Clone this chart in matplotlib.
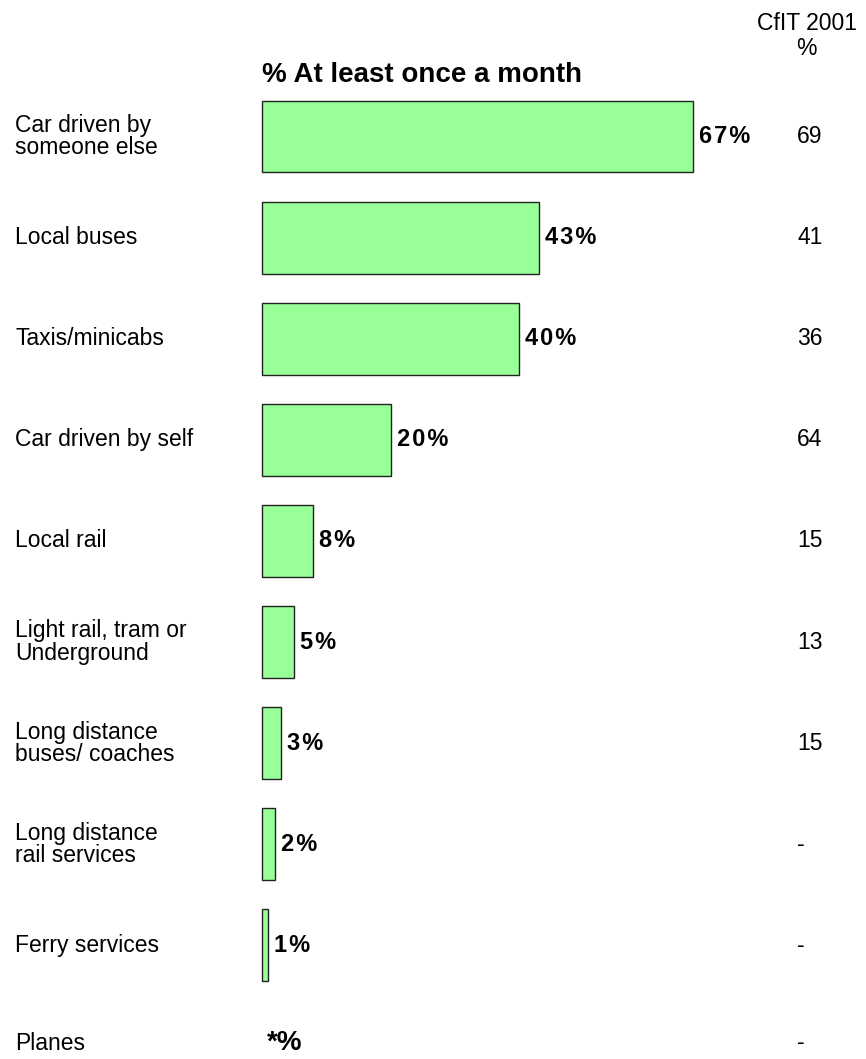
import numpy as np
import matplotlib.pyplot as plt

plt.rcParams['font.family'] = ['Liberation Sans', 'DejaVu Sans']

modes = ['Car driven by\nsomeone else', 'Local buses', 'Taxis/minicabs',
         'Car driven by self', 'Local rail', 'Light rail, tram or\nUnderground',
         'Long distance\nbuses/ coaches', 'Long distance\nrail services',
         'Ferry services', 'Planes']
monthly = [67, 43, 40, 20, 8, 5, 3, 2, 1, 0]
value_labels = ['67%', '43%', '40%', '20%', '8%', '5%', '3%', '2%', '1%', '*%']
cfit_2001 = ['69', '41', '36', '64', '15', '13', '15', '-', '-', '-']

# layout in pixels
W, H = 866, 1059
PX = 6.433          # pixels per percentage point
X0 = 262            # pixel of 0%
Y0 = 136.5          # pixel centre of first row
ROW = 101.1         # pixels between rows

fig = plt.figure(figsize=(W / 100, H / 100), dpi=100)
ax = fig.add_axes([0, 0, 1, 1])
ax.set_xlim(-X0 / PX, (W - X0) / PX)
ax.set_ylim((H - Y0) / ROW, -Y0 / ROW)
ax.axis('off')

def px_x(p):
    return (p - X0) / PX

def px_y(p):
    return (p - Y0) / ROW

def spaced(s):
    # the original labels are drawn with a little letter spacing
    if s.startswith('*'):
        return s
    return '\u200a'.join(s)

rows = np.arange(len(modes))
ax.barh(rows[:-1], monthly[:-1], height=0.712, left=0, color='#99FF99',
        edgecolor='#222222', linewidth=1.0)

for i, (m, v, lab, c) in enumerate(zip(modes, monthly, value_labels, cfit_2001)):
    y = i
    size = 17
    if i == len(modes) - 1:
        y = px_y(1043)
        size = 20
    ax.text(px_x(15), y, m, ha='left', va='center', fontsize=16.5, linespacing=0.95)
    ax.text(v + px_x(268) if v > 0 else px_x(267), y, spaced(lab), ha='left',
            va='center', fontsize=size, fontweight='bold')
    ax.text(px_x(797), y, c, ha='left', va='center', fontsize=16.5)

ax.text(px_x(262), px_y(75), '% At least once a month', ha='left', va='center',
        fontsize=20, fontweight='bold')
ax.text(px_x(807), px_y(23), 'CfIT 2001', ha='center', va='center', fontsize=16.5)
ax.text(px_x(806), px_y(48), '%', ha='center', va='center', fontsize=16.5)

fig.savefig('out.png', dpi=100)
